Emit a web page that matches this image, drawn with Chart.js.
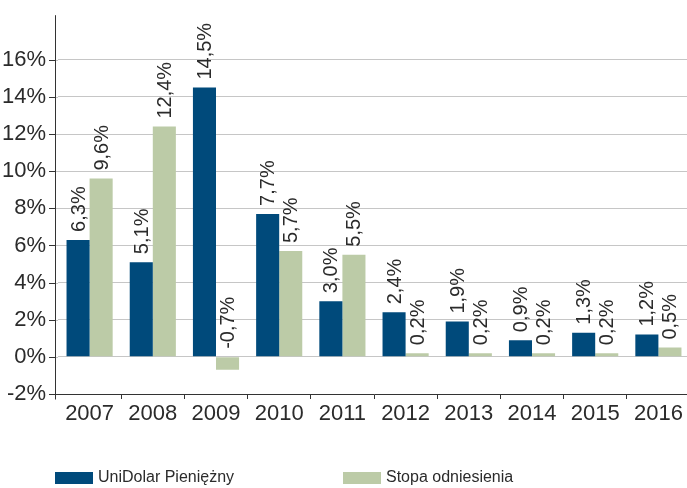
<!DOCTYPE html>
<html>
<head>
<meta charset="utf-8">
<script src="https://cdn.jsdelivr.net/npm/chart.js@4"></script>
<style>
  html, body { margin: 0; padding: 0; background: #ffffff; overflow: hidden; }
  #wrap { width: 687px; height: 488px; overflow: hidden; }
</style>
</head>
<body>
<div id="wrap"><canvas id="chart" width="690" height="488"></canvas></div>
<script>
const years = ['2007', '2008', '2009', '2010', '2011', '2012', '2013', '2014', '2015', '2016'];
const fundValues = [6.3, 5.1, 14.5, 7.7, 3.0, 2.4, 1.9, 0.9, 1.3, 1.2];
const benchValues = [9.6, 12.4, -0.7, 5.7, 5.5, 0.2, 0.2, 0.2, 0.2, 0.5];
const seriesNames = ['UniDolar Pieniężny', 'Stopa odniesienia'];
const yTicks = [-2, 0, 2, 4, 6, 8, 10, 12, 14, 16];

const FONT = '"Liberation Sans Narrow", "Arial Narrow", sans-serif';
const TEXT = '#2b2b2b';
const AXIS = '#333333';
const AXIS_X = 55; // the y axis line sits a few px left of the first category

function fmt(v) {
    return v.toFixed(1).replace('.', ',') + '%';
}

// y axis line + tick marks, drawn a bit left of the plot area
const axisLines = {
    id: 'axisLines',
    beforeDatasetsDraw(chart) {
        const ctx = chart.ctx;
        const area = chart.chartArea;
        const y = chart.scales.y;
        ctx.save();
        ctx.lineWidth = 1;
        y.ticks.forEach(t => {
            const py = Math.round(y.getPixelForValue(t.value)) + 0.5;
            ctx.strokeStyle = '#c6c6c6';
            ctx.beginPath();
            ctx.moveTo(AXIS_X, py);
            ctx.lineTo(area.left, py);
            ctx.stroke();
            ctx.strokeStyle = AXIS;
            ctx.beginPath();
            ctx.moveTo(AXIS_X - 6, py);
            ctx.lineTo(AXIS_X, py);
            ctx.stroke();
        });
        const bottom = Math.round(y.getPixelForValue(-2)) + 0.5;
        ctx.strokeStyle = AXIS;
        ctx.beginPath();
        ctx.moveTo(AXIS_X, bottom);
        ctx.lineTo(area.left, bottom);
        ctx.stroke();
        ctx.beginPath();
        ctx.moveTo(AXIS_X + 0.5, area.top);
        ctx.lineTo(AXIS_X + 0.5, bottom + 5);
        ctx.stroke();
        ctx.restore();
    }
};

// rotated value labels above each bar
const valueLabels = {
    id: 'valueLabels',
    afterDatasetsDraw(chart) {
        const ctx = chart.ctx;
        const y = chart.scales.y;
        ctx.save();
        ctx.font = '20px ' + FONT;
        ctx.fillStyle = TEXT;
        ctx.textAlign = 'left';
        ctx.textBaseline = 'middle';
        chart.data.datasets.forEach((ds, i) => {
            chart.getDatasetMeta(i).data.forEach((bar, j) => {
                const v = ds.data[j];
                const top = y.getPixelForValue(Math.max(v, 0));
                ctx.save();
                ctx.translate(bar.x + 1, top - 8);
                ctx.rotate(-Math.PI / 2);
                ctx.fillText(fmt(v), 0, 0);
                ctx.restore();
            });
        });
        ctx.restore();
    }
};

// legend along the bottom
const bottomLegend = {
    id: 'bottomLegend',
    afterDraw(chart) {
        const ctx = chart.ctx;
        const xs = [55, 343];
        ctx.save();
        ctx.font = '16px ' + FONT;
        ctx.textBaseline = 'middle';
        chart.data.datasets.forEach((ds, i) => {
            ctx.fillStyle = ds.backgroundColor;
            ctx.fillRect(xs[i], 472, 38, 12);
            ctx.fillStyle = TEXT;
            ctx.fillText(ds.label, xs[i] + 43, 478);
        });
        ctx.restore();
    }
};

new Chart(document.getElementById('chart'), {
    type: 'bar',
    data: {
        labels: years,
        datasets: [
            { label: seriesNames[0], data: fundValues, backgroundColor: '#004a7b' },
            { label: seriesNames[1], data: benchValues, backgroundColor: '#bccba7' }
        ]
    },
    options: {
        responsive: false,
        animation: false,
        categoryPercentage: 0.73,
        barPercentage: 1.0,
        layout: { padding: { left: 0, right: 0, top: 15, bottom: 0 } },
        plugins: {
            legend: { display: false },
            tooltip: { enabled: false }
        },
        scales: {
            x: {
                grid: {
                    offset: true,
                    drawOnChartArea: false,
                    drawTicks: true,
                    tickLength: 5,
                    color: c => c.index === 0 ? 'rgba(0,0,0,0)' : AXIS
                },
                border: { color: AXIS, width: 1 },
                ticks: { color: TEXT, font: { family: FONT, size: 22 }, padding: 2 },
                afterFit(scale) { scale.height = 94; }
            },
            y: {
                min: -2,
                max: 18.4,
                afterBuildTicks(scale) {
                    scale.ticks = yTicks.map(v => ({ value: v }));
                },
                grid: {
                    color: '#c6c6c6',
                    drawTicks: true,
                    tickLength: 10,
                    tickColor: 'rgba(0,0,0,0)',
                    lineWidth: 1
                },
                border: { display: false },
                ticks: {
                    color: TEXT,
                    font: { family: FONT, size: 22 },
                    padding: 2,
                    callback: v => v + '%'
                },
                afterFit(scale) { scale.width = 58; }
            }
        }
    },
    plugins: [axisLines, valueLabels, bottomLegend]
});
</script>
</body>
</html>
